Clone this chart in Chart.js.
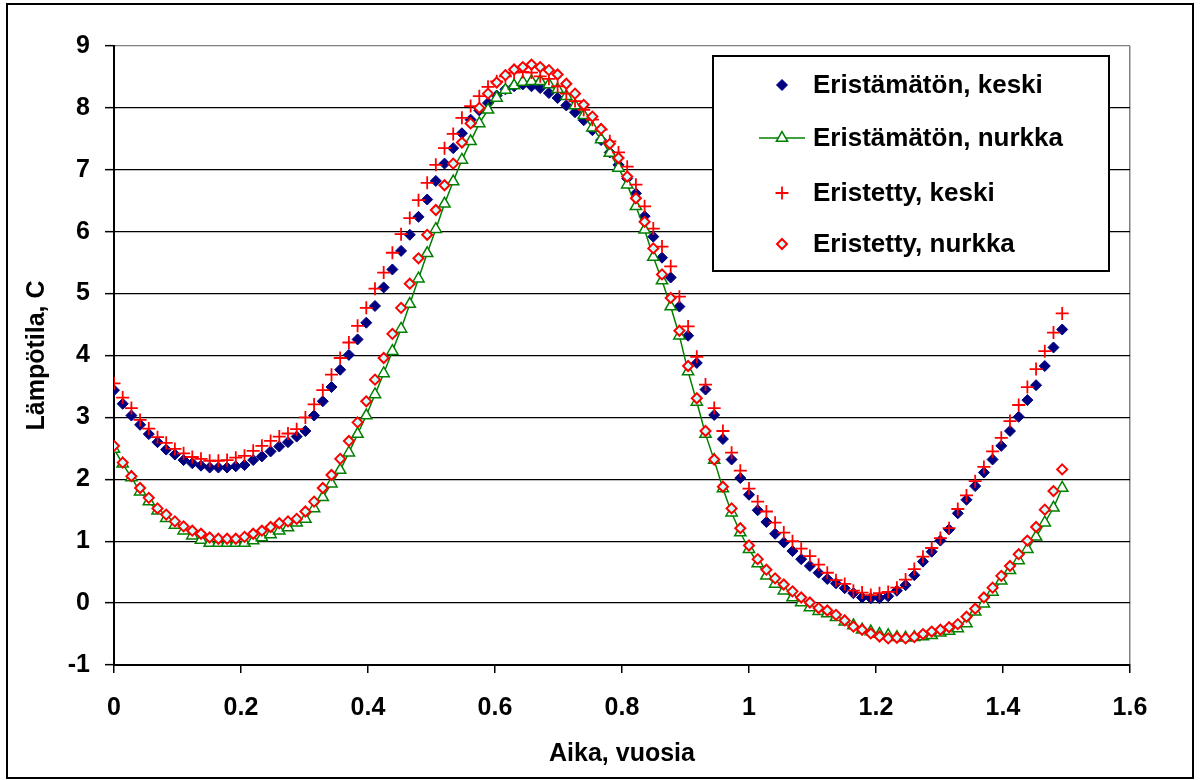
<!DOCTYPE html>
<html>
<head>
<meta charset="utf-8">
<title>Lämpötila</title>
<script src="https://cdn.jsdelivr.net/npm/chart.js@4.4.1/dist/chart.umd.min.js"></script>
<style>
  body { margin: 0; background: #fff; }
  #wrap { position: relative; width: 1201px; height: 780px; }
  #frame { position: absolute; left: 6px; top: 3px; width: 1184px; height: 772px; border: 2px solid #000; pointer-events: none; }
  canvas { position: absolute; left: 0; top: 0; }
</style>
</head>
<body>
<div id="wrap">
  <canvas id="chart_temp" width="1201" height="780"></canvas>
  <div id="frame"></div>
</div>
<script>
// aika (vuosia), 5 päivän välein
var aika = [
  0, 0.0137, 0.0274, 0.0411, 0.0548, 0.0685, 0.0822, 0.0959, 0.1096, 0.1233,
  0.1370, 0.1507, 0.1644, 0.1781, 0.1918, 0.2055, 0.2192, 0.2329, 0.2466, 0.2603,
  0.2740, 0.2877, 0.3014, 0.3151, 0.3288, 0.3425, 0.3562, 0.3699, 0.3836, 0.3973,
  0.4110, 0.4247, 0.4384, 0.4521, 0.4658, 0.4795, 0.4932, 0.5068, 0.5205, 0.5342,
  0.5479, 0.5616, 0.5753, 0.5890, 0.6027, 0.6164, 0.6301, 0.6438, 0.6575, 0.6712,
  0.6849, 0.6986, 0.7123, 0.7260, 0.7397, 0.7534, 0.7671, 0.7808, 0.7945, 0.8082,
  0.8219, 0.8356, 0.8493, 0.8630, 0.8767, 0.8904, 0.9041, 0.9178, 0.9315, 0.9452,
  0.9589, 0.9726, 0.9863, 1.0000, 1.0137, 1.0274, 1.0411, 1.0548, 1.0685, 1.0822,
  1.0959, 1.1096, 1.1233, 1.1370, 1.1507, 1.1644, 1.1781, 1.1918, 1.2055, 1.2192,
  1.2329, 1.2466, 1.2603, 1.2740, 1.2877, 1.3014, 1.3151, 1.3288, 1.3425, 1.3562,
  1.3699, 1.3836, 1.3973, 1.4110, 1.4247, 1.4384, 1.4521, 1.4658, 1.4795, 1.4932
];

var eristamatonKeski = [
  3.44, 3.22, 3.03, 2.88, 2.73, 2.60, 2.48, 2.40, 2.31, 2.26,
  2.22, 2.19, 2.19, 2.19, 2.21, 2.23, 2.31, 2.37, 2.45, 2.53,
  2.60, 2.69, 2.78, 3.03, 3.26, 3.49, 3.77, 4.01, 4.26, 4.53,
  4.80, 5.10, 5.39, 5.69, 5.95, 6.24, 6.52, 6.82, 7.10, 7.35,
  7.59, 7.81, 7.96, 8.08, 8.20, 8.30, 8.35, 8.38, 8.35, 8.32,
  8.24, 8.16, 8.04, 7.93, 7.80, 7.64, 7.48, 7.28, 7.08, 6.86,
  6.62, 6.25, 5.92, 5.58, 5.26, 4.79, 4.32, 3.88, 3.45, 3.04,
  2.65, 2.32, 2.02, 1.75, 1.50, 1.31, 1.12, 0.98, 0.84, 0.71,
  0.60, 0.49, 0.39, 0.32, 0.24, 0.16, 0.09, 0.08, 0.08, 0.11,
  0.20, 0.29, 0.45, 0.67, 0.83, 1.01, 1.19, 1.45, 1.67, 1.89,
  2.11, 2.32, 2.54, 2.78, 3.01, 3.28, 3.52, 3.83, 4.13, 4.42
];

var eristamatonNurkka = [
  2.49, 2.25, 2.03, 1.80, 1.64, 1.49, 1.37, 1.26, 1.17, 1.09,
  1.02, 0.97, 0.97, 0.97, 0.97, 0.97, 1.01, 1.06, 1.11, 1.17,
  1.22, 1.30, 1.36, 1.53, 1.71, 1.93, 2.15, 2.43, 2.73, 3.03,
  3.37, 3.71, 4.07, 4.43, 4.83, 5.24, 5.65, 6.04, 6.45, 6.81,
  7.16, 7.46, 7.75, 7.97, 8.16, 8.29, 8.36, 8.42, 8.43, 8.43,
  8.38, 8.30, 8.19, 8.04, 7.88, 7.68, 7.49, 7.27, 7.03, 6.76,
  6.41, 6.03, 5.59, 5.21, 4.79, 4.32, 3.74, 3.25, 2.73, 2.31,
  1.85, 1.46, 1.14, 0.87, 0.64, 0.44, 0.31, 0.20, 0.09, 0.01,
  -0.07, -0.13, -0.17, -0.23, -0.30, -0.36, -0.43, -0.46, -0.50, -0.52,
  -0.55, -0.56, -0.55, -0.54, -0.52, -0.48, -0.45, -0.41, -0.33, -0.14,
  -0.01, 0.18, 0.36, 0.53, 0.69, 0.87, 1.07, 1.30, 1.54, 1.86
];

var eristettyKeski = [
  3.55, 3.32, 3.15, 2.96, 2.82, 2.68, 2.59, 2.49, 2.42, 2.36,
  2.33, 2.30, 2.30, 2.31, 2.35, 2.38, 2.46, 2.54, 2.62, 2.69,
  2.74, 2.81, 3.00, 3.21, 3.44, 3.69, 3.96, 4.21, 4.48, 4.77,
  5.08, 5.34, 5.66, 5.96, 6.22, 6.51, 6.79, 7.08, 7.35, 7.58,
  7.84, 8.03, 8.19, 8.34, 8.43, 8.51, 8.57, 8.58, 8.57, 8.51,
  8.47, 8.35, 8.23, 8.11, 7.97, 7.81, 7.65, 7.46, 7.28, 7.05,
  6.76, 6.41, 6.05, 5.76, 5.44, 4.95, 4.47, 3.98, 3.53, 3.15,
  2.78, 2.43, 2.14, 1.85, 1.64, 1.48, 1.30, 1.14, 1.00, 0.88,
  0.76, 0.62, 0.49, 0.37, 0.31, 0.20, 0.17, 0.13, 0.16, 0.18,
  0.25, 0.38, 0.55, 0.75, 0.89, 1.05, 1.21, 1.52, 1.74, 1.97,
  2.20, 2.45, 2.67, 2.94, 3.20, 3.49, 3.78, 4.07, 4.37, 4.68
];

var eristettyNurkka = [
  2.54, 2.27, 2.05, 1.86, 1.70, 1.53, 1.43, 1.32, 1.24, 1.17,
  1.12, 1.06, 1.04, 1.04, 1.04, 1.07, 1.12, 1.17, 1.23, 1.29,
  1.32, 1.36, 1.48, 1.64, 1.86, 2.07, 2.33, 2.62, 2.92, 3.26,
  3.61, 3.96, 4.35, 4.77, 5.16, 5.57, 5.95, 6.35, 6.75, 7.10,
  7.44, 7.75, 8.00, 8.23, 8.41, 8.53, 8.62, 8.66, 8.70, 8.66,
  8.61, 8.54, 8.39, 8.23, 8.05, 7.86, 7.66, 7.42, 7.19, 6.89,
  6.54, 6.16, 5.73, 5.31, 4.93, 4.40, 3.83, 3.31, 2.78, 2.32,
  1.88, 1.53, 1.21, 0.93, 0.71, 0.54, 0.40, 0.30, 0.19, 0.09,
  0.01, -0.08, -0.12, -0.19, -0.28, -0.38, -0.43, -0.49, -0.54, -0.57,
  -0.56, -0.57, -0.55, -0.50, -0.46, -0.43, -0.39, -0.34, -0.22, -0.09,
  0.09, 0.25, 0.44, 0.60, 0.79, 1.01, 1.23, 1.51, 1.81, 2.16
];

var sarjaNimet = ['Eristämätön, keski', 'Eristämätön, nurkka', 'Eristetty, keski', 'Eristetty, nurkka'];
var xTicks = [0, 0.2, 0.4, 0.6, 0.8, 1, 1.2, 1.4, 1.6];
var yTicks = [-1, 0, 1, 2, 3, 4, 5, 6, 7, 8, 9];

var fontFamily = "'Liberation Sans', Arial, sans-serif";

function toPoints(values) {
    return values.map((v, i) => {
        return { x: aika[i], y: v };
    });
}

// last point of the insulated corner series has no fill in the original
var nurkkaFill = eristettyNurkka.map((v, i) => i === eristettyNurkka.length - 1 ? '#ffffff' : '#ccffff');

// legend drawn as a framed box inside the plot, like the spreadsheet original
const boxLegend = {
    id: 'boxLegend',
    afterDatasetsDraw(chart) {
        const ctx = chart.ctx;
        const left = 713, top = 56, right = 1109, bottom = 271;
        const markerX = 782, textX = 813;
        const rows = [85, 138, 193, 244];
        ctx.save();
        ctx.fillStyle = '#ffffff';
        ctx.fillRect(left, top, right - left, bottom - top);
        ctx.strokeStyle = '#000000';
        ctx.lineWidth = 2;
        ctx.strokeRect(left, top, right - left, bottom - top);

        const order = [0, 1, 2, 3];
        order.forEach(i => {
            const ds = chart.data.datasets[i];
            const y = rows[i];
            if (ds.showLine) {
                ctx.strokeStyle = ds.borderColor;
                ctx.lineWidth = ds.borderWidth;
                ctx.beginPath();
                ctx.moveTo(markerX - 23, y);
                ctx.lineTo(markerX + 23, y);
                ctx.stroke();
            }
            const bg = Array.isArray(ds.pointBackgroundColor) ? ds.pointBackgroundColor[0] : ds.pointBackgroundColor;
            ctx.fillStyle = bg;
            ctx.strokeStyle = ds.pointBorderColor;
            ctx.lineWidth = ds.pointBorderWidth;
            Chart.helpers.drawPoint(ctx, {
                pointStyle: ds.pointStyle,
                radius: ds.pointRadius,
                borderWidth: ds.pointBorderWidth,
                rotation: 0
            }, markerX, y);

            ctx.fillStyle = '#000000';
            ctx.font = 'bold 26px ' + fontFamily;
            ctx.textBaseline = 'middle';
            ctx.textAlign = 'left';
            ctx.fillText(sarjaNimet[i], textX, y + 1);
        });
        ctx.restore();
    }
};

function createChart() {

    let fdatasets = [];

    fdatasets.push({
        label: sarjaNimet[0],
        data: toPoints(eristamatonKeski),
        showLine: false,
        pointStyle: 'rectRot',
        pointRadius: 5.5,
        pointBorderWidth: 1,
        pointBackgroundColor: '#000080',
        pointBorderColor: '#000080',
        order: 4
    });

    fdatasets.push({
        label: sarjaNimet[1],
        data: toPoints(eristamatonNurkka),
        showLine: true,
        borderColor: '#008000',
        borderWidth: 1.5,
        tension: 0,
        pointStyle: 'triangle',
        pointRadius: 6.5,
        pointBorderWidth: 1.5,
        pointBackgroundColor: '#ffffff',
        pointBorderColor: '#008000',
        order: 3
    });

    fdatasets.push({
        label: sarjaNimet[2],
        data: toPoints(eristettyKeski),
        showLine: false,
        pointStyle: 'cross',
        pointRadius: 6.5,
        pointBorderWidth: 1.8,
        pointBackgroundColor: '#ff0000',
        pointBorderColor: '#ff0000',
        order: 2
    });

    fdatasets.push({
        label: sarjaNimet[3],
        data: toPoints(eristettyNurkka),
        showLine: false,
        pointStyle: 'rectRot',
        pointRadius: 5,
        pointBorderWidth: 2,
        pointBackgroundColor: nurkkaFill,
        pointBorderColor: '#ff0000',
        order: 1
    });

    const chart = new Chart('chart_temp', {
        type: 'scatter',
        data: {
            datasets: fdatasets
        },
        options: {
            responsive: false,
            animation: false,
            layout: {
                padding: { top: 46, right: 71, left: 0, bottom: 0 }
            },
            plugins: {
                legend: { display: false },
                tooltip: { enabled: false }
            },
            scales: {
                x: {
                    type: 'linear',
                    min: 0,
                    max: 1.6,
                    afterBuildTicks: scale => {
                        scale.ticks = xTicks.map(v => ({ value: v }));
                    },
                    afterFit: scale => { scale.height = 115; },
                    ticks: {
                        autoSkip: false,
                        maxRotation: 0,
                        padding: 20,
                        color: '#000',
                        font: { family: fontFamily, size: 25, weight: 'bold' },
                        callback: v => String(Math.round(v * 10) / 10)
                    },
                    grid: {
                        drawOnChartArea: true,
                        color: c => (c.tick && Math.abs(c.tick.value - 1.6) < 1e-6) ? '#808080' : 'rgba(0,0,0,0)',
                        lineWidth: 1.5,
                        tickColor: '#000',
                        tickLength: 8,
                        tickWidth: 1.5
                    },
                    border: { color: '#000', width: 2 },
                    title: {
                        display: true,
                        text: 'Aika, vuosia',
                        color: '#000',
                        font: { family: fontFamily, size: 25, weight: 'bold' },
                        padding: { top: 0, bottom: 11 }
                    }
                },
                y: {
                    type: 'linear',
                    min: -1,
                    max: 9,
                    afterBuildTicks: scale => {
                        scale.ticks = yTicks.map(v => ({ value: v }));
                    },
                    afterFit: scale => { scale.width = 114; },
                    ticks: {
                        padding: 15,
                        color: '#000',
                        font: { family: fontFamily, size: 25, weight: 'bold' }
                    },
                    grid: {
                        color: c => (c.tick && c.tick.value === 9) ? '#808080' : '#000000',
                        lineWidth: 1.3,
                        tickColor: '#000',
                        tickLength: 9,
                        tickWidth: 1.5
                    },
                    border: { color: '#000', width: 2 },
                    title: {
                        display: true,
                        text: 'Lämpötila, C',
                        color: '#000',
                        font: { family: fontFamily, size: 25, weight: 'bold' },
                        padding: { top: 22, bottom: 0 }
                    }
                }
            }
        },
        plugins: [boxLegend]
    });

    return chart;
}

createChart();
</script>
</body>
</html>
